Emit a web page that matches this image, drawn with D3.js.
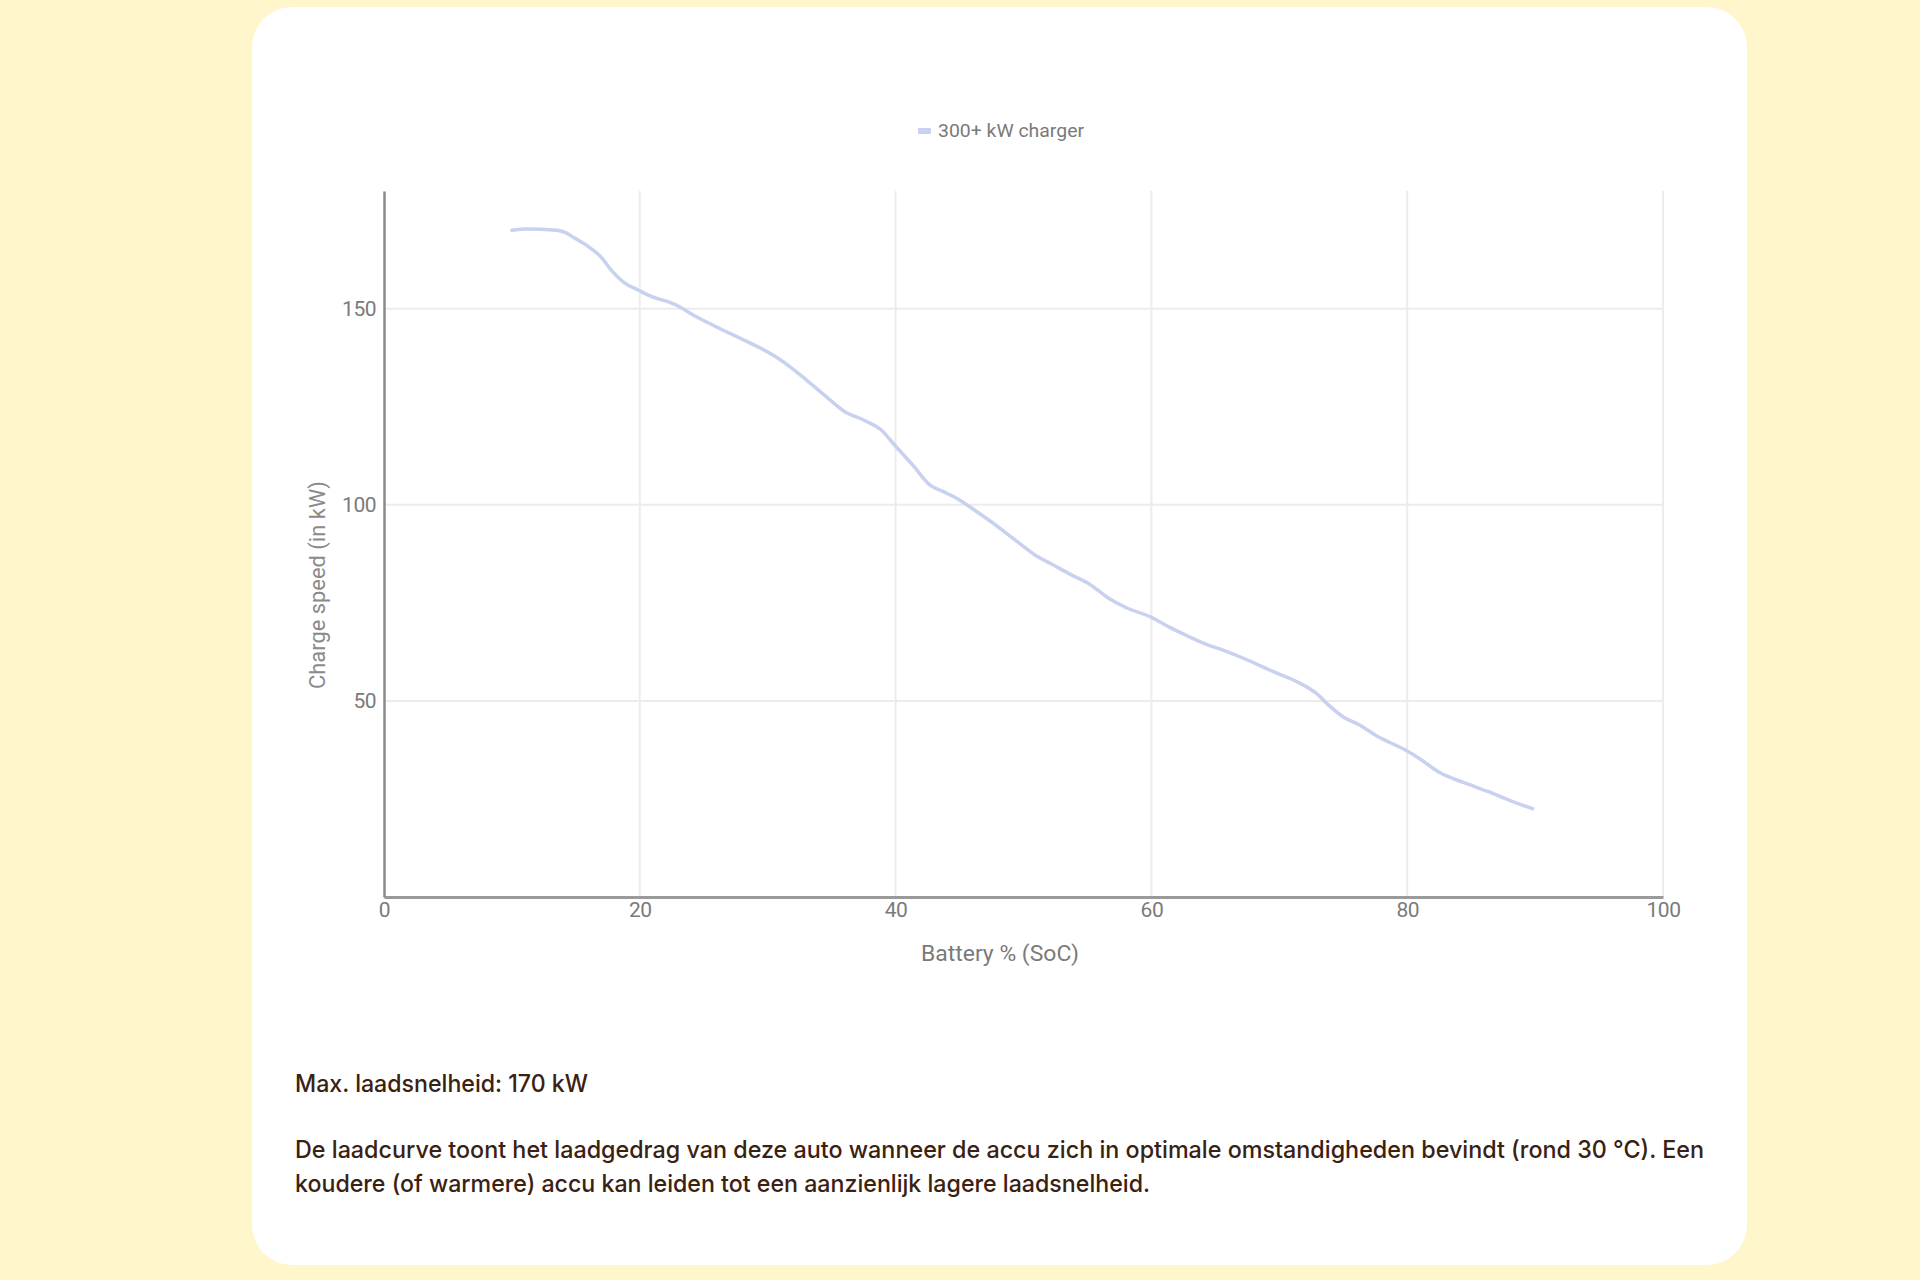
<!DOCTYPE html>
<html><head><meta charset="utf-8">
<script src="https://cdn.jsdelivr.net/npm/d3@7"></script>
<style>
html,body{margin:0;padding:0;background:#fff6cc;}
svg{display:block;}
</style></head>
<body>
<svg id="c" width="1920" height="1280"></svg>
<script>
const seriesName = "300+ kW charger";
const soc = [10,11.1,13.5,14.2,14.9,15.9,16.9,17.8,18.8,19.9,20.7,22.8,24.5,26.4,28.4,30.6,31.7,33.1,34.6,36,37.5,38.9,39.9,41.3,42.7,43.7,44.8,46.1,47.5,49,50.9,52.3,53.7,55.2,56.6,58,60,61.4,62.8,64.3,65.7,67.6,69.5,71.5,72.9,73.9,75,76.2,77.7,79.9,81,82.5,84.4,86.3,88.2,89.8];
const kw  = [170,170.3,170,169.4,168,166,163.4,159.7,156.6,154.7,153.4,151,147.8,144.7,141.6,137.8,135.3,131.6,127.5,123.8,121.6,119,115.3,110.3,105,103.4,101.6,98.8,95.6,91.9,87.2,84.7,82.2,79.7,76.3,73.8,71.3,68.8,66.6,64.4,62.8,60.3,57.5,54.7,51.9,48.8,45.9,44,40.9,37.4,35.2,31.8,29.2,26.9,24.4,22.5];
const xTicks = [0,20,40,60,80,100];
const yTicks = [50,100,150];
const xTitle = "Battery % (SoC)";
const yTitle = "Charge speed (in kW)";
const maxText = "Max. laadsnelheid: 170 kW";
const paraLines = ["De laadcurve toont het laadgedrag van deze auto wanneer de accu zich in optimale omstandigheden bevindt (rond 30 °C). Een","koudere (of warmere) accu kan leiden tot een aanzienlijk lagere laadsnelheid."];

const svg = d3.select("#c");
const font = "Roboto, 'Noto Sans', sans-serif";
const bodyFont = "Inter, 'Noto Sans', sans-serif";
svg.append("rect").attr("x",252).attr("y",7).attr("width",1495).attr("height",1258).attr("rx",40).attr("fill","#ffffff");

const x = d3.scaleLinear().domain([0,100]).range([384,1663]);
const y = d3.scaleLinear().domain([0,180]).range([897,191]);

// grid
svg.append("g").selectAll("line").data(xTicks.slice(1)).join("line")
  .attr("x1",d=>x(d)).attr("x2",d=>x(d)).attr("y1",y(180)).attr("y2",y(0))
  .attr("stroke","#ececec").attr("stroke-width",2);
svg.append("g").selectAll("line").data(yTicks).join("line")
  .attr("x1",x(0)).attr("x2",x(100)).attr("y1",d=>y(d)).attr("y2",d=>y(d))
  .attr("stroke","#ececec").attr("stroke-width",2);

// axes
const xa = svg.append("g").attr("transform",`translate(0,${y(0)})`)
  .call(d3.axisBottom(x).tickValues(xTicks).tickSize(0).tickPadding(5));
xa.select(".domain").attr("stroke","#9a9a9a").attr("stroke-width",3);
xa.selectAll("text").attr("font-family",font).attr("font-size",21).attr("fill","#7a7a7a").attr("letter-spacing","-0.5");
const ya = svg.append("g").attr("transform",`translate(${x(0)},0)`)
  .call(d3.axisLeft(y).tickValues(yTicks).tickSize(0).tickPadding(8));
ya.select(".domain").attr("stroke","#8a8a8a").attr("stroke-width",2.5);
ya.selectAll("text").attr("font-family",font).attr("font-size",21).attr("fill","#7a7a7a").attr("letter-spacing","-0.5");

// line
const pts = soc.map((s,i)=>[s,kw[i]]);
svg.append("path").datum(pts)
  .attr("d",d3.line().x(d=>x(d[0])).y(d=>y(d[1])).curve(d3.curveMonotoneX))
  .attr("fill","none").attr("stroke","#c8d1ef").attr("stroke-width",3.5)
  .attr("stroke-linejoin","round").attr("stroke-linecap","round");

// legend
svg.append("rect").attr("x",918).attr("y",128).attr("width",13).attr("height",6).attr("rx",1).attr("fill","#c8d1ef");
svg.append("text").attr("x",938).attr("y",137).text(seriesName)
  .attr("font-family",font).attr("font-size",19).attr("fill","#7a7a7a")
  .attr("textLength",146).attr("lengthAdjust","spacingAndGlyphs");

// titles
svg.append("text").attr("x",1000).attr("y",961).attr("text-anchor","middle").text(xTitle)
  .attr("font-family",font).attr("font-size",22).attr("fill","#7a7a7a")
  .attr("textLength",158).attr("lengthAdjust","spacingAndGlyphs");
svg.append("text").attr("transform","translate(325,585) rotate(-90)").attr("text-anchor","middle").text(yTitle)
  .attr("font-family",font).attr("font-size",22).attr("fill","#8a8a8a")
  .attr("textLength",208).attr("lengthAdjust","spacingAndGlyphs");

// body text
svg.append("text").attr("x",295).attr("y",1092).text(maxText)
  .attr("font-family",bodyFont).attr("font-size",24).attr("font-weight",500).attr("fill","#3b2112")
  .attr("textLength",293).attr("lengthAdjust","spacingAndGlyphs");
const paraLen = [1409, 855];
svg.append("g").selectAll("text").data(paraLines).join("text")
  .attr("x",295).attr("y",(d,i)=>1158+i*34).text(d=>d)
  .attr("font-family",bodyFont).attr("font-size",24).attr("font-weight",500).attr("fill","#3b2112")
  .attr("textLength",(d,i)=>paraLen[i]).attr("lengthAdjust","spacingAndGlyphs");
</script>
</body></html>
